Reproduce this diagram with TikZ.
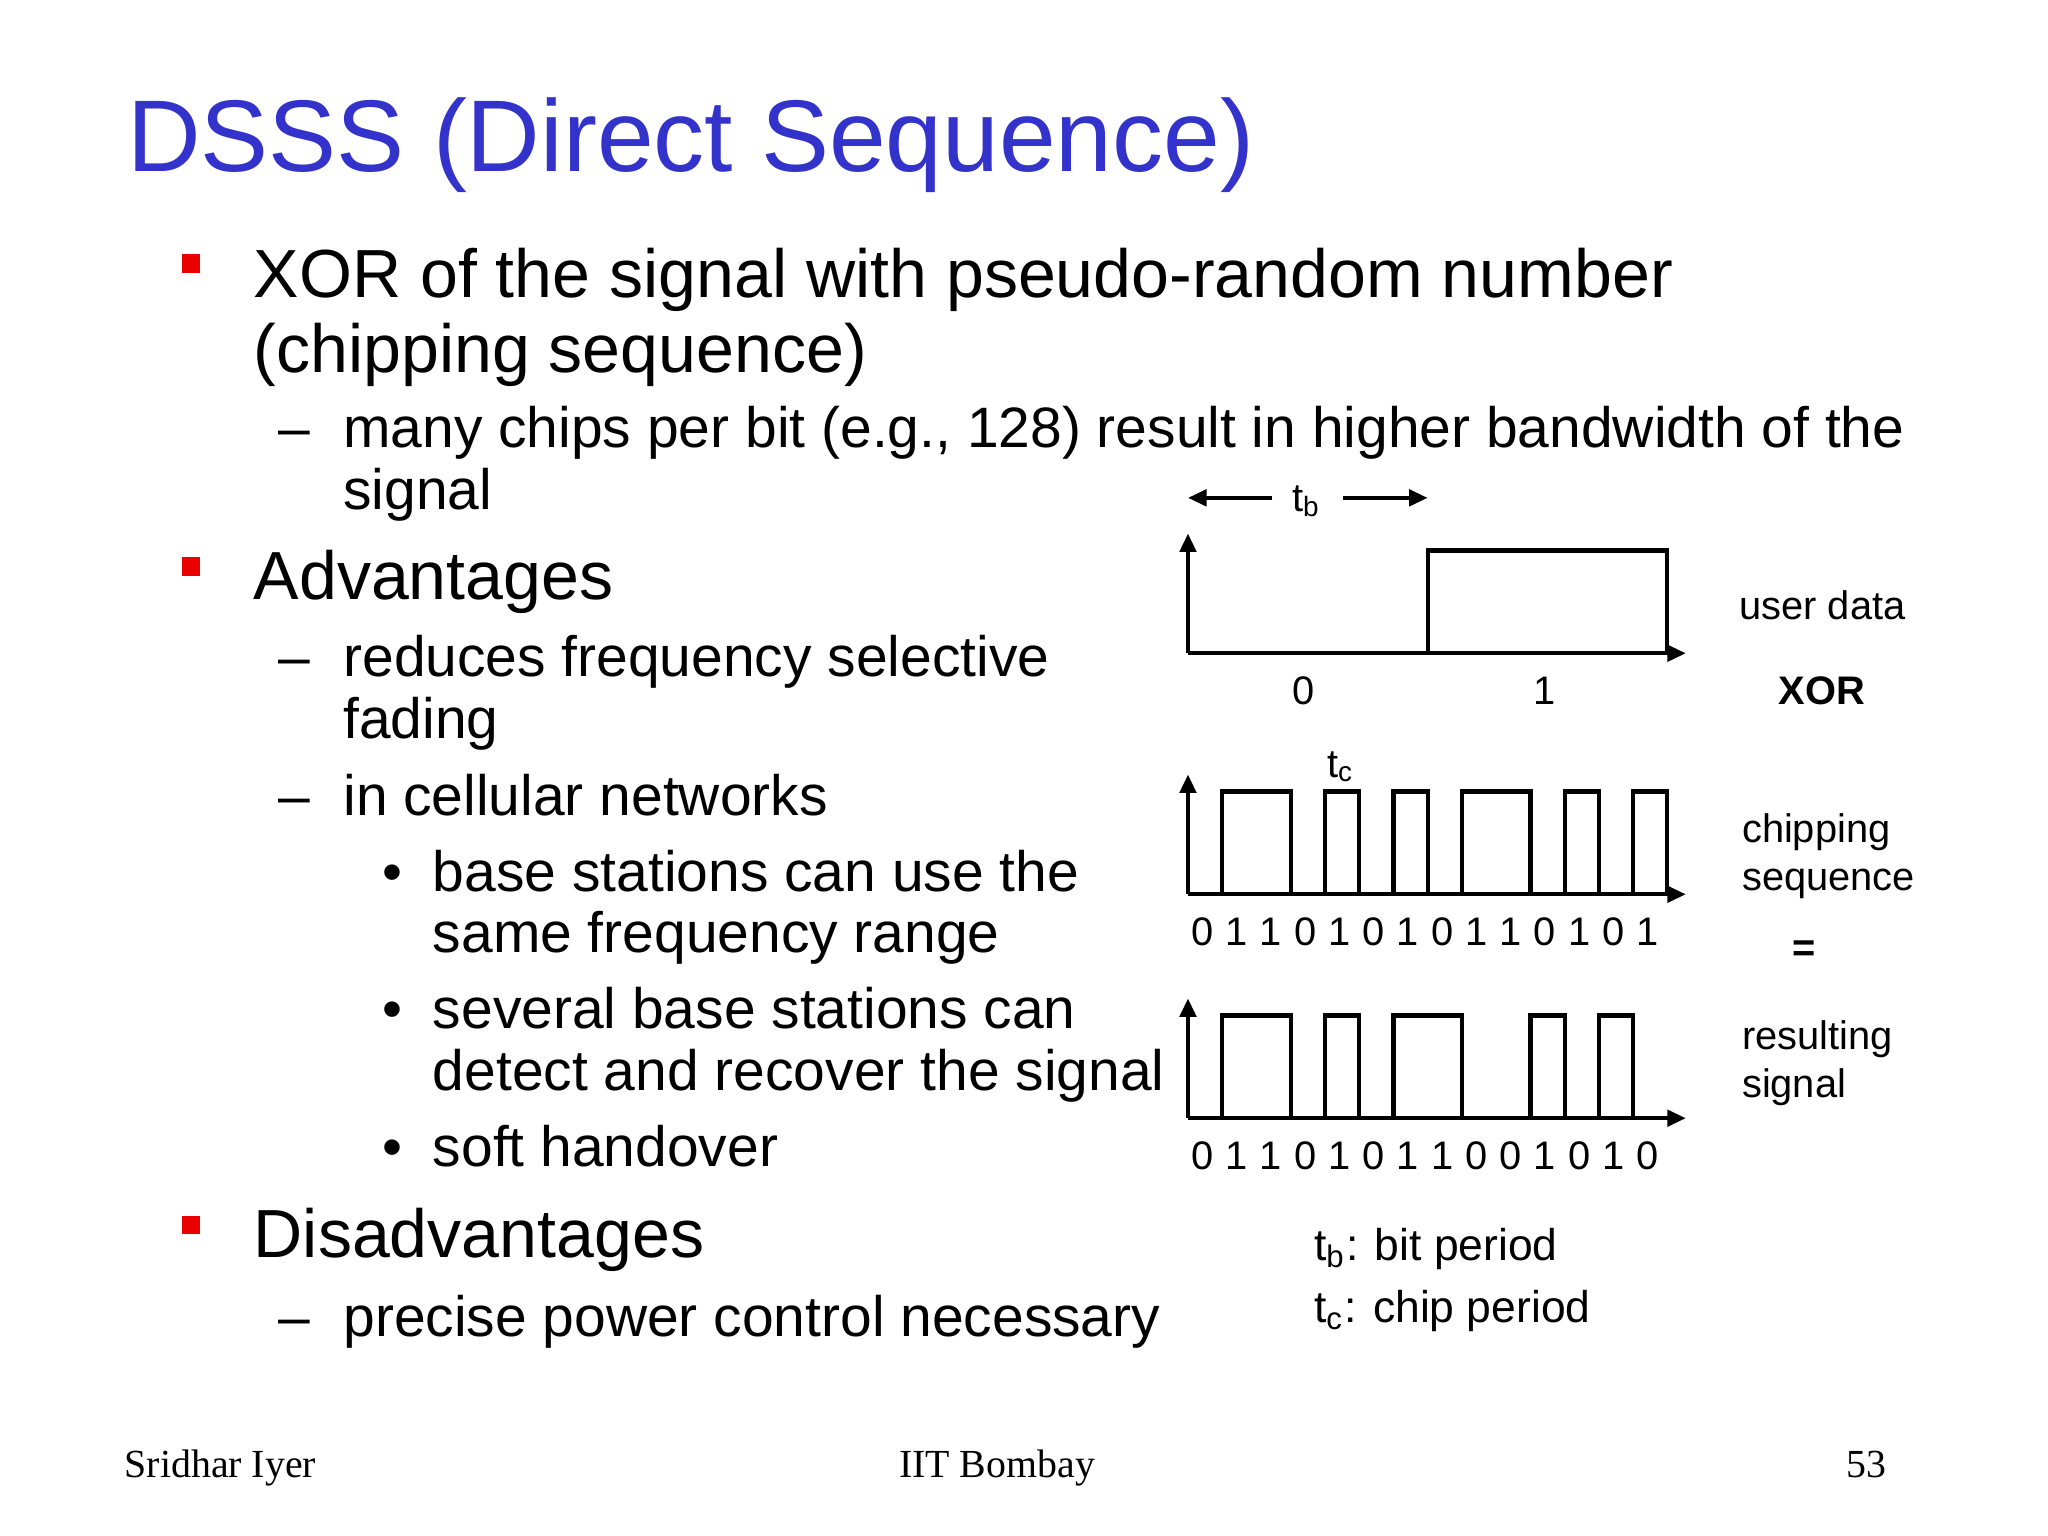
\documentclass[tikz,border=0pt]{standalone}
\usepackage{fontspec}
\setmainfont{Liberation Sans}
\newfontfamily\serf{Liberation Serif}
\usetikzlibrary{arrows.meta}
\definecolor{ttl}{RGB}{51,51,204}
\definecolor{bred}{RGB}{235,0,0}
\tikzset{
  T/.style={anchor=base west,inner sep=0pt,font=\fontsize{22}{24}\selectfont,text=ttl},
  L1/.style={anchor=base west,inner sep=0pt,font=\fontsize{14.7}{17}\selectfont},
  L2/.style={anchor=base west,inner sep=0pt,font=\fontsize{12.3}{14}\selectfont},
  DL/.style={anchor=base west,inner sep=0pt,font=\fontsize{8.6}{10}\selectfont},
  DC/.style={anchor=base,inner sep=0pt,font=\fontsize{8.6}{10}\selectfont},
  LG/.style={anchor=base west,inner sep=0pt,font=\fontsize{9.6}{11}\selectfont},
  FT/.style={anchor=base,inner sep=0pt,font=\serf\fontsize{8.6}{9}\selectfont},
  sq/.style={fill=bred},
  wave/.style={line width=0.9pt},
  ax/.style={line width=0.9pt,-{Triangle[length=4pt,width=3.5pt]}},
}
\begin{document}
\begin{tikzpicture}[x=0.01cm,y=-0.01cm]
\useasboundingbox (0,0) rectangle (1555,1166);
\node[T] (title) at (96,130) {DSSS (Direct Sequence)};
% level 1
\fill[sq] (138,193) rectangle (152,207);
\fill[sq] (138,423) rectangle (152,437);
\fill[sq] (138,923) rectangle (152,937);
\node[L1] (a1) at (192,226) {XOR of the signal with pseudo-random number};
\node[L1] (a2) at (192,283) {(chipping sequence)};
\node[L1] (b1) at (192,455) {Advantages};
\node[L1] (c1) at (192,955) {Disadvantages};
% level 2
\node[L2] (d1) at (211,340) {–};
\node[L2] (a3) at (260,340) {many chips per bit (e.g., 128) result in higher bandwidth of the};
\node[L2] (a4) at (260,387) {signal};
\node[L2] (d2) at (211,514) {–};
\node[L2] (b2) at (260,514) {reduces frequency selective};
\node[L2] (b3) at (260,561) {fading};
\node[L2] (d3) at (211,619) {–};
\node[L2] (b4) at (260,619) {in cellular networks};
\node[L2] (e1) at (290,677) {•};
\node[L2] (b5) at (328,677) {base stations can use the};
\node[L2] (b6) at (328,723) {same frequency range};
\node[L2] (e2) at (290,781) {•};
\node[L2] (b7) at (328,781) {several base stations can};
\node[L2] (b8) at (328,828) {detect and recover the signal};
\node[L2] (e3) at (290,886) {•};
\node[L2] (b9) at (328,886) {soft handover};
\node[L2] (d4) at (211,1015) {–};
\node[L2] (c2) at (260,1015) {precise power control necessary};
% diagram: user data
\coordinate (u0) at (902,496); \coordinate (uy) at (902,405); \coordinate (ux) at (1280,496);
\draw[ax] (u0) -- (uy);
\draw[ax] (u0) -- (ux);
\draw[wave] (902,496) -- (1084,496) -- (1084,418) -- (1266,418) -- (1266,496);
\coordinate (tbl) at (966,378); \coordinate (tbl2) at (902,378);
\coordinate (tbr) at (1020,378); \coordinate (tbr2) at (1084,378);
\draw[ax] (tbl) -- (tbl2);
\draw[ax] (tbr) -- (tbr2);
\node[DC] (tb) at (992,388) {t\textsubscript{b}};
\node[DC] (u0l) at (990,535) {0};
\node[DC] (u1l) at (1173,535) {1};
\node[DL] (ud) at (1320,470) {user data};
\node[DL,font=\bfseries\fontsize{8.6}{10}\selectfont] (xor) at (1350,535) {XOR};
% chipping sequence
\coordinate (c0) at (902,679); \coordinate (cy) at (902,588); \coordinate (cx) at (1280,679);
\draw[ax] (c0) -- (cy);
\draw[ax] (c0) -- (cx);
\foreach \a/\b in {1/3,4/5,6/7,8/10,11/12,13/14}
  \draw[wave] (902+26*\a,679) -- (902+26*\a,601) -- (902+26*\b,601) -- (902+26*\b,679);
\node[DC] (tc) at (1018,590) {t\textsubscript{c}};
\foreach \d [count=\i from 0] in {0,1,1,0,1,0,1,0,1,1,0,1,0,1}
  \node[DC] (cd\i) at (913+26*\i,718) {\d};
\node[DL] (ch1) at (1322,640) {chipping};
\node[DL] (ch2) at (1322,676) {sequence};
\node[DC,font=\bfseries\fontsize{8.6}{10}\selectfont] (eq) at (1370,730) {=};
% resulting signal
\coordinate (r0) at (902,849); \coordinate (ry) at (902,758); \coordinate (rx) at (1280,849);
\draw[ax] (r0) -- (ry);
\draw[ax] (r0) -- (rx);
\foreach \a/\b in {1/3,4/5,6/8,10/11,12/13}
  \draw[wave] (902+26*\a,849) -- (902+26*\a,771) -- (902+26*\b,771) -- (902+26*\b,849);
\foreach \d [count=\i from 0] in {0,1,1,0,1,0,1,1,0,0,1,0,1,0}
  \node[DC] (rd\i) at (913+26*\i,888) {\d};
\node[DL] (rs1) at (1322,797) {resulting};
\node[DL] (rs2) at (1322,833) {signal};
% legend
\node[LG] (lg1) at (997,957) {t\textsubscript{b}: bit period};
\node[LG] (lg2) at (997,1004) {t\textsubscript{c}: chip period};
% footer
\node[FT,anchor=base west] (f1) at (94,1122) {Sridhar Iyer};
\node[FT] (f2) at (757,1122) {IIT Bombay};
\node[FT,anchor=base east] (f3) at (1433,1122) {53};
\end{tikzpicture}
\end{document}
